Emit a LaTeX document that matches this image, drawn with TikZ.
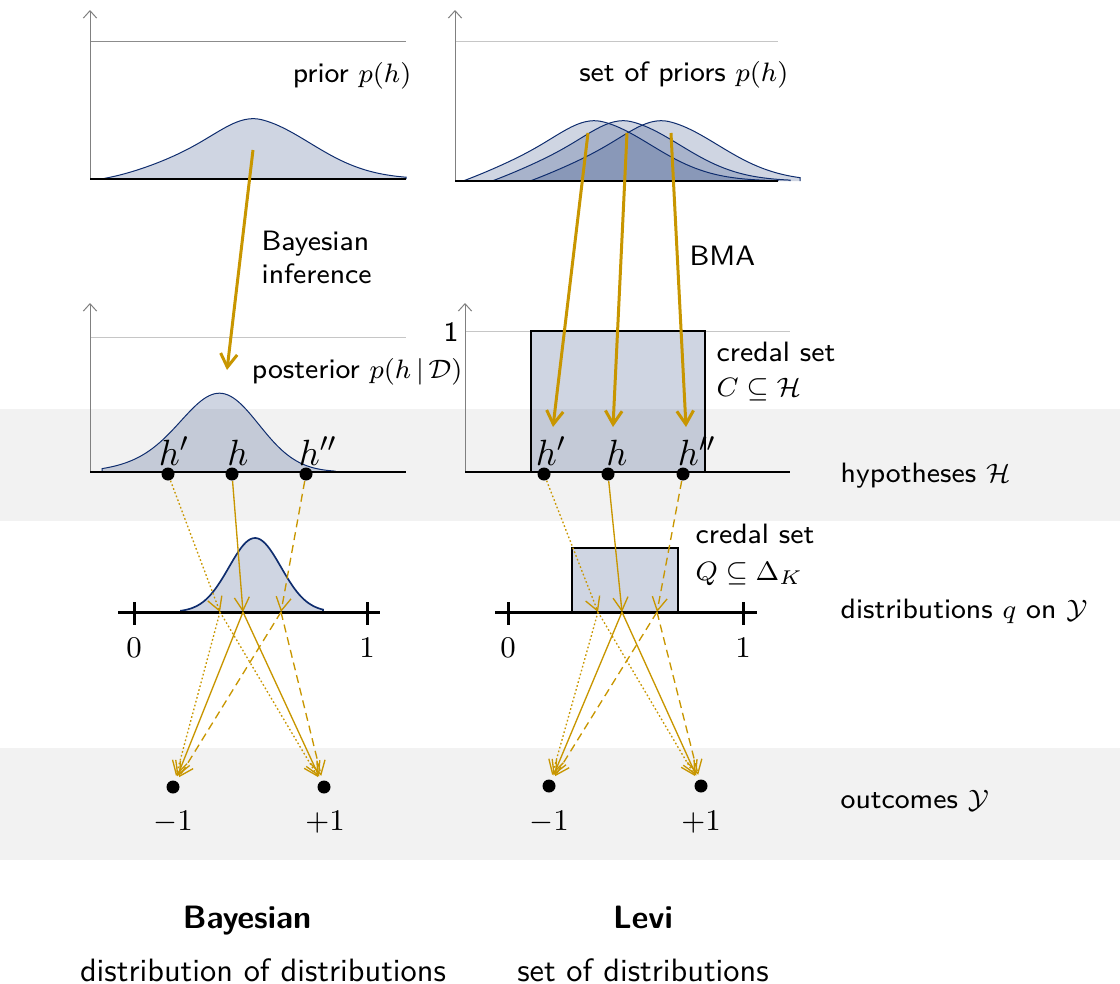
\documentclass[tikz,border=0pt]{standalone}
\usetikzlibrary{arrows.meta}
\definecolor{navy}{RGB}{15,45,110}
\definecolor{gold}{RGB}{200,150,0}
\definecolor{bandc}{RGB}{242,242,242}
\begin{document}
\begin{tikzpicture}[x=0.3pt,y=-0.3pt, font=\fontsize{8.4}{10}\selectfont\sffamily,
  every node/.style={inner sep=0pt},
  declare function={g(\t,\m,\s)=exp(-0.5*((\t-\m)/\s)*((\t-\m)/\s));
    pr(\t)=(\t<262 ? 49*g(\t,262,40)+22*g(\t,200,50) : 49*g(\t,262,56)+22*g(\t,200,50));
    prs(\t,\s)=pr(\t)*(1-exp(-(\t-\s)/18));},
  curve/.style={draw=navy, line width=0.3pt, fill=navy, fill opacity=0.2},
  refline/.style={draw=gray!45, line width=0.3pt},
  yaxis/.style={draw=gray, line width=0.3pt, -{Straight Barb[length=2.2pt,width=4pt]}},
  baseln/.style={draw=black, line width=0.6pt},
  qaxis/.style={draw=black, line width=0.9pt},
  rectc/.style={draw=black, line width=0.35pt, fill=navy, fill opacity=0.2},
  rectq/.style={draw=black, line width=0.6pt, fill=navy, fill opacity=0.2},
  dot/.style={circle, fill=black, inner sep=0pt, minimum size=3.9pt},
  hlab/.style={anchor=base, font=\fontsize{10.8}{13}\selectfont},
  numlab/.style={anchor=base, font=\fontsize{9.5}{11}\selectfont},
  biglab/.style={anchor=base, font=\fontsize{9.7}{12}\selectfont\sffamily},
  boldlab/.style={anchor=base, font=\fontsize{9.7}{12}\selectfont\sffamily\bfseries},
  bigarr/.style={draw=gold, line width=0.9pt, -{Straight Barb[length=4pt,width=5pt]}},
  smarr/.style={draw=gold, line width=0.4pt, -{Straight Barb[length=4pt,width=4.5pt]}},
  dotq/.style={dash pattern=on 0.5pt off 0.7pt},
  dashq/.style={dash pattern=on 2.4pt off 1.5pt},
  outarr/.style={smarr, shorten >=1.3pt}
]
\useasboundingbox (0,0) rectangle (1120,984);
% bands
\fill[bandc] (0,409) rectangle (1120,521);
\fill[bandc] (0,748) rectangle (1120,860);

% ---------- top left: prior
\draw[refline, draw=gray!90] (90,41) -- (406,41);
\draw[curve] (101,179) -- plot[domain=101:406,samples=100] (\x,{179-prs(\x,101)}) -- (406,179);
\draw[yaxis] (90,179) -- (90,10);
\draw[baseln] (90,179) -- (406,179);
\node[anchor=base east] (prior) at (412,82) {prior $p(h)$};

% ---------- top right: set of priors
\draw[refline] (455,41) -- (778,41);
\foreach \pk/\en in {603/778, 632/790, 670/800}{
  \draw[curve] (\pk-140,181) -- plot[domain=\pk-140:\en,samples=100] (\x,{181-prs(\x-\pk+262,122)}) -- (\en,181);
}
\draw[yaxis] (455,181) -- (455,10);
\draw[baseln] (455,181) -- (778,181);
\node[anchor=base east] (priors) at (789,81) {set of priors $p(h)$};

% ---------- middle left: posterior
\draw[refline] (90,337) -- (406,337);
\draw[curve] (102,472) -- plot[domain=102:335,samples=90] (\x,{472-75*g(\x,222,38)-10*g(\x,165,40)}) -- (335,472);
\draw[yaxis] (90,472) -- (90,303);
\draw[baseln] (90,472) -- (406,472);
\node[anchor=base east] (post) at (463,378) {posterior $p(h\,|\,\mathcal{D})$};

% ---------- middle right: credal set C
\draw[refline] (465,331) -- (790,331);
\draw[rectc] (531,331) rectangle (705,472);
\draw[yaxis] (465,472) -- (465,303);
\draw[baseln] (465,472) -- (790,472);
\node (one) at (451,332) {1};
\node[anchor=base west] (cs1) at (716,361) {credal set};
\node[anchor=base west] (cs2) at (716,396) {$C\subseteq\mathcal{H}$};

% hypotheses points
\node[dot] (Lh1) at (168,474) {};
\node[dot] (Lh0) at (232,474) {};
\node[dot] (Lh2) at (306,474) {};
\node[hlab] (tLh1) at (174,465) {$h'$};
\node[hlab] (tLh0) at (238,465) {$h$};
\node[hlab] (tLh2) at (318,465) {$h''$};
\node[dot] (Rh1) at (544,474) {};
\node[dot] (Rh0) at (608,474) {};
\node[dot] (Rh2) at (683,474) {};
\node[hlab] (tRh1) at (551,465) {$h'$};
\node[hlab] (tRh0) at (617,465) {$h$};
\node[hlab] (tRh2) at (697,465) {$h''$};

% ---------- distributions row
\draw[curve, line width=0.5pt] (181,612) -- plot[domain=181:323,samples=60] (\x,{612-74*g(\x,255,26)}) -- (323,612);
\draw[qaxis] (118,612) -- (380,612);
\draw[qaxis] (134,602) -- (134,625);
\draw[qaxis] (367,602) -- (367,625);
\node[numlab] (l0) at (134,657) {$0$};
\node[numlab] (l1) at (367,657) {$1$};

\draw[rectq] (572,548) rectangle (678,612);
\draw[qaxis] (495,612) -- (757,612);
\draw[qaxis] (508,602) -- (508,625);
\draw[qaxis] (743,602) -- (743,625);
\node[numlab] (r0) at (508,657) {$0$};
\node[numlab] (r1) at (743,657) {$1$};
\node[anchor=base west] (qs1) at (695,543) {credal set};
\node[anchor=base west] (qs2) at (695,580) {$Q\subseteq\Delta_K$};

\coordinate (Lq1) at (220,612);
\coordinate (Lq0) at (243,612);
\coordinate (Lq2) at (281,612);
\coordinate (Rq1) at (598,612);
\coordinate (Rq0) at (622,612);
\coordinate (Rq2) at (657,612);

% ---------- outcomes
\node[dot] (Lm) at (173,787) {};
\node[dot] (Lp) at (324,787) {};
\node[dot] (Rm) at (549,786) {};
\node[dot] (Rp) at (701,786) {};
\node[numlab] (tLm) at (173,830) {$-1$};
\node[numlab] (tLp) at (325,830) {$+1$};
\node[numlab] (tRm) at (549,830) {$-1$};
\node[numlab] (tRp) at (701,830) {$+1$};

% ---------- arrows: hypotheses -> distributions
\draw[smarr, dotq] (Lh1) -- (Lq1);
\draw[smarr] (Lh0) -- (Lq0);
\draw[smarr, dashq] (Lh2) -- (Lq2);
\draw[smarr, dotq] (Rh1) -- (Rq1);
\draw[smarr] (Rh0) -- (Rq0);
\draw[smarr, dashq] (Rh2) -- (Rq2);

% ---------- arrows: distributions -> outcomes
\draw[outarr, dotq] (Lq1) -- (Lm);
\draw[outarr, dotq] (Lq1) -- (Lp);
\draw[outarr] (Lq0) -- (Lm);
\draw[outarr] (Lq0) -- (Lp);
\draw[outarr, dashq] (Lq2) -- (Lm);
\draw[outarr, dashq] (Lq2) -- (Lp);
\draw[outarr, dotq] (Rq1) -- (Rm);
\draw[outarr, dotq] (Rq1) -- (Rp);
\draw[outarr] (Rq0) -- (Rm);
\draw[outarr] (Rq0) -- (Rp);
\draw[outarr, dashq] (Rq2) -- (Rm);
\draw[outarr, dashq] (Rq2) -- (Rp);

% ---------- big gold arrows
\coordinate (pa) at (253,150);
\coordinate (pb) at (227,370);
\draw[bigarr] (pa) -- (pb);
\coordinate (sa1) at (588,133); \coordinate (sb1) at (553,427);
\coordinate (sa2) at (627,133); \coordinate (sb2) at (613,427);
\coordinate (sa3) at (671,133); \coordinate (sb3) at (686,427);
\draw[bigarr] (sa1) -- (sb1);
\draw[bigarr] (sa2) -- (sb2);
\draw[bigarr] (sa3) -- (sb3);
\node[anchor=base west] (bi1) at (261,250) {Bayesian};
\node[anchor=base west] (bi2) at (261,283) {inference};
\node[anchor=base west] (bma) at (689,265) {BMA};

% ---------- right labels
\node[anchor=base west] (hyp) at (840,482) {hypotheses $\mathcal{H}$};
\node[anchor=base west] (dist) at (840,618) {distributions $q$ on $\mathcal{Y}$};
\node[anchor=base west] (outc) at (840,808) {outcomes $\mathcal{Y}$};

% ---------- bottom labels
\node[boldlab] (bay) at (247,928) {Bayesian};
\node[biglab] (bay2) at (263,981) {distribution of distributions};
\node[boldlab] (levi) at (643,928) {Levi};
\node[biglab] (levi2) at (643,981) {set of distributions};
\end{tikzpicture}
\end{document}
